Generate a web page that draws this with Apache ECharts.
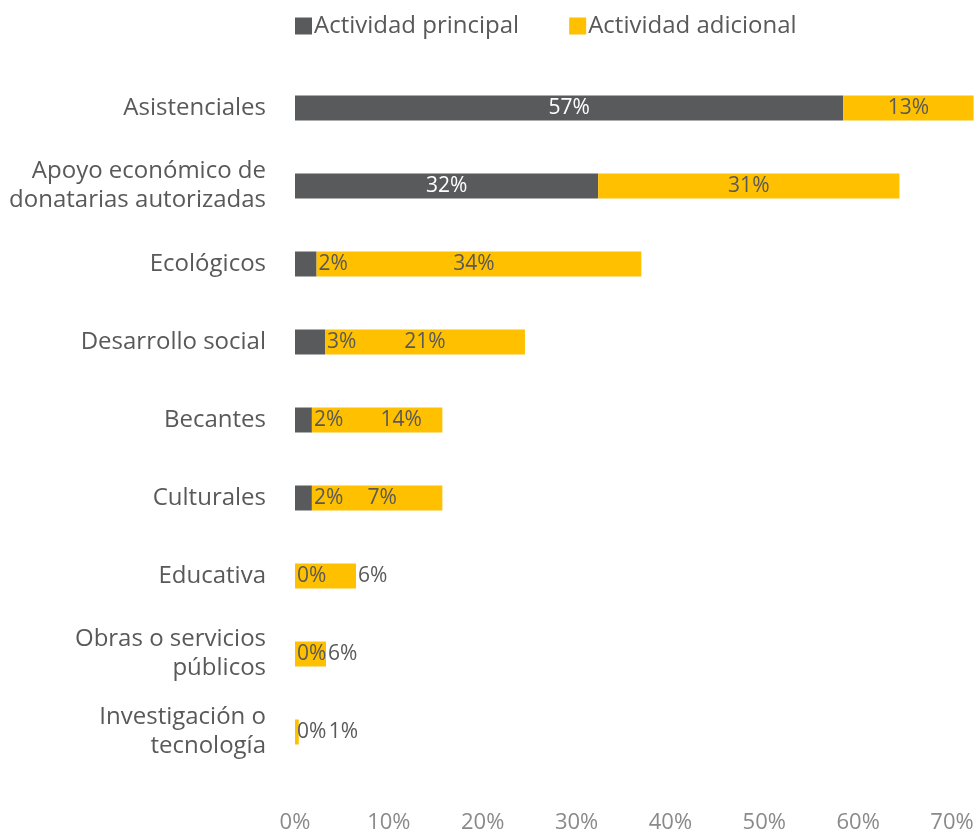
<!DOCTYPE html>
<html>
<head>
<meta charset="utf-8">
<script src="https://cdn.jsdelivr.net/npm/echarts@6/dist/echarts.min.js"></script>
<style>html,body{margin:0;padding:0;background:#fff}#c{width:978px;height:834px}</style>
</head>
<body>
<div id="c"></div>
<script>
const categories = ['Asistenciales', 'Apoyo económico de\ndonatarias autorizadas', 'Ecológicos', 'Desarrollo social', 'Becantes', 'Culturales', 'Educativa', 'Obras o servicios\npúblicos', 'Investigación o\ntecnología'];
const seriesNames = ['Actividad principal', 'Actividad adicional'];
const principal = [58.4, 32.3, 2.3, 3.2, 1.8, 1.8, 0, 0, 0];
const adicional = [13.9, 32.1, 34.6, 21.3, 13.9, 13.9, 6.5, 3.3, 0.4];
const principalLabels = ['57%', '32%', '2%', '3%', '2%', '2%', '0%', '0%', '0%'];
const adicionalLabels = ['13%', '31%', '34%', '21%', '14%', '7%', '6%', '6%', '1%'];
const xTicks = [0, 10, 20, 30, 40, 50, 60, 70];

// label nudges (style only, px)
const adicionalLabelShift = [0, 0, -5, 0, 24, 5, 0, 0, 28];

const GRAY = '#595A5C', YELLOW = '#FFC000', TXT = '#595959';
const FONT = '"Open Sans", "DejaVu Sans", sans-serif';

const pData = principal.map((v, i) => ({
  value: v,
  label: v > 10
    ? { position: 'inside', color: '#ffffff' }
    : { position: 'right', distance: 2, color: TXT }
}));
const aData = adicional.map((v, i) => {
  const base = principal[i] > 0
    ? { position: 'inside', color: TXT }
    : { position: 'right', distance: 2, color: TXT };
  base.offset = [adicionalLabelShift[i], 0];
  return { value: v, label: base };
});

const chart = echarts.init(document.getElementById('c'), null, { renderer: 'canvas' });
chart.setOption({
  animation: false,
  textStyle: { fontFamily: FONT },
  legend: {
    data: seriesNames,
    top: 9, left: 290,
    icon: 'rect', itemWidth: 17, itemHeight: 17, itemGap: 50,
    textStyle: { fontFamily: FONT, fontSize: 24, color: TXT, padding: [0, 0, 0, -3] }
  },
  grid: { left: 295, width: 657, top: 69, bottom: 51, containLabel: false },
  xAxis: {
    type: 'value', min: xTicks[0], max: xTicks[xTicks.length - 1], interval: 10,
    axisLine: { show: false }, axisTick: { show: false }, splitLine: { show: false },
    axisLabel: { formatter: v => v + '%', fontFamily: FONT, fontSize: 22, color: '#8A8A8A', margin: 41 }
  },
  yAxis: {
    type: 'category', data: categories, inverse: true,
    axisLine: { show: false }, axisTick: { show: false },
    axisLabel: { fontFamily: FONT, fontSize: 24, color: TXT, margin: 29, lineHeight: 29, align: 'right' }
  },
  series: [
    {
      name: seriesNames[0], type: 'bar', stack: 'a', barWidth: 25, clip: false,
      itemStyle: { color: GRAY }, data: pData,
      label: { show: true, fontFamily: FONT, fontSize: 21, formatter: p => principalLabels[p.dataIndex] }
    },
    {
      name: seriesNames[1], type: 'bar', stack: 'a', barWidth: 25, clip: false,
      itemStyle: { color: YELLOW }, data: aData,
      label: { show: true, fontFamily: FONT, fontSize: 21, formatter: p => adicionalLabels[p.dataIndex] }
    }
  ]
});
</script>
</body>
</html>
